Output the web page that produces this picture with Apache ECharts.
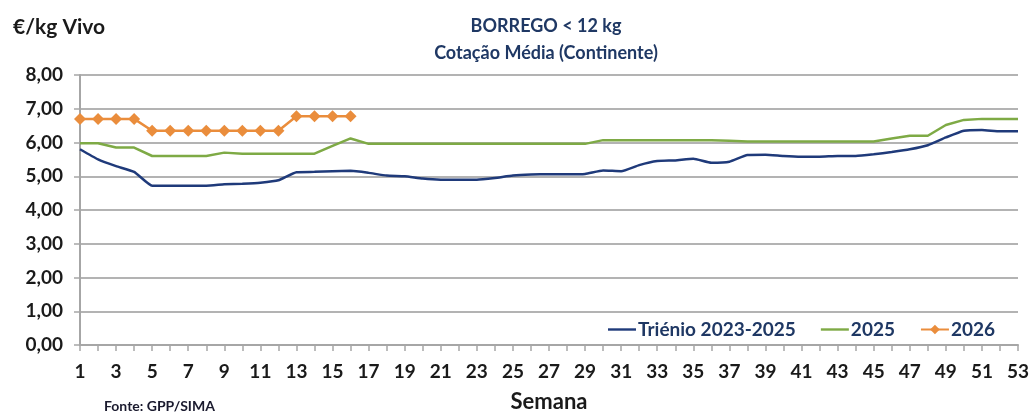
<!DOCTYPE html>
<html>
<head>
<meta charset="utf-8">
<script src="https://cdn.jsdelivr.net/npm/echarts@6/dist/echarts.min.js"></script>
<style>
html,body{margin:0;padding:0;background:#fff;}
#c{width:1031px;height:414px;}
</style>
</head>
<body>
<div id="c"></div>
<script>
const weeks = [1,2,3,4,5,6,7,8,9,10,11,12,13,14,15,16,17,18,19,20,21,22,23,24,25,26,27,28,29,30,31,32,33,34,35,36,37,38,39,40,41,42,43,44,45,46,47,48,49,50,51,52,53];
const trienio = [5.80,5.50,5.30,5.13,4.72,4.72,4.72,4.72,4.76,4.78,4.81,4.88,5.12,5.13,5.15,5.16,5.10,5.02,5.00,4.93,4.90,4.90,4.90,4.95,5.02,5.05,5.06,5.06,5.07,5.17,5.15,5.33,5.45,5.47,5.52,5.40,5.43,5.63,5.64,5.60,5.58,5.58,5.60,5.60,5.65,5.72,5.80,5.92,6.15,6.35,6.37,6.33,6.33];
const y2025 = [5.98,5.98,5.85,5.85,5.60,5.60,5.60,5.60,5.70,5.67,5.67,5.67,5.67,5.67,5.90,6.12,5.96,5.96,5.96,5.96,5.96,5.96,5.96,5.96,5.96,5.96,5.96,5.96,5.96,6.07,6.07,6.07,6.07,6.07,6.07,6.07,6.05,6.03,6.03,6.03,6.03,6.03,6.03,6.03,6.03,6.12,6.20,6.20,6.52,6.67,6.70,6.70,6.70];
const y2026 = [6.70,6.70,6.70,6.70,6.35,6.35,6.35,6.35,6.35,6.35,6.35,6.35,6.78,6.78,6.78,6.78];
const seriesNames = ['Triénio 2023-2025','2025','2026'];
const yTickValues = [0,1,2,3,4,5,6,7,8];

const FONT = 'Lato, "Open Sans", sans-serif';
const NAVY = '#1F3864';
const LINE_ICON = 'path://M0,0 M28,0 M0,4.8 H28 V7.2 H0 Z M0,12 M28,12';
const chart = echarts.init(document.getElementById('c'), null, {renderer:'canvas'});
chart.setOption({
  animation:false,
  backgroundColor:'#fff',
  textStyle:{fontFamily:FONT},
  title:[
    {text:'BORREGO < 12 kg', left:541, top:12, textAlign:'center',
     textStyle:{fontFamily:FONT, fontSize:18, fontWeight:'bold', color:NAVY}},
    {text:'Cotação Média (Continente)', left:541, top:39, textAlign:'center',
     textStyle:{fontFamily:FONT, fontSize:18, fontWeight:'bold', color:NAVY}},
    {text:'€/kg Vivo', left:8, top:12, textStyle:{fontFamily:FONT, fontSize:21, fontWeight:'bold', color:'#1a1a1a'}},
    {text:'Fonte: GPP/SIMA', left:99, top:394, textStyle:{fontFamily:FONT, fontSize:14, fontWeight:'bold', color:'#1a1a2e'}}
  ],
  legend:{
    left:603, top:315, itemGap:25, itemWidth:28, itemHeight:12,
    textStyle:{fontFamily:FONT, fontSize:19, fontWeight:'bold', color:NAVY, padding:[0,0,0,-3]},
    data:[
      {name:seriesNames[0], icon:LINE_ICON},
      {name:seriesNames[1], icon:LINE_ICON},
      {name:seriesNames[2]}
    ]
  },
  grid:{left:80, right:13, top:75, bottom:69, containLabel:false, outerBoundsMode:'none'},
  xAxis:{
    type:'category', data:weeks, boundaryGap:false,
    name:'Semana', nameLocation:'middle', nameGap:46,
    nameTextStyle:{fontFamily:FONT, fontSize:22, fontWeight:'bold', color:'#1a1a1a'},
    axisLine:{lineStyle:{color:'#A6A6A6', width:2}},
    axisTick:{show:true, interval:0, length:6, lineStyle:{color:'#A6A6A6', width:1.5}},
    axisLabel:{interval:1, margin:17, fontFamily:FONT, fontSize:19, fontWeight:'bold', color:'#1a1a1a'},
    splitLine:{show:false}
  },
  yAxis:{
    type:'value', min:yTickValues[0], max:yTickValues[yTickValues.length-1], interval:1,
    axisLine:{show:true, lineStyle:{color:'#A6A6A6', width:2}},
    axisTick:{show:true, length:6, lineStyle:{color:'#A6A6A6', width:1.5}},
    axisLabel:{margin:17, fontFamily:FONT, fontSize:19, fontWeight:'bold', color:'#1a1a1a',
      formatter:v=>v.toFixed(2).replace('.',',')},
    splitLine:{lineStyle:{color:'#B3B3B3', width:2}}
  },
  series:[
    {name:seriesNames[0], type:'line', data:trienio, symbol:'none', smooth:0.15,
     lineStyle:{color:'#1F3A7A', width:2.5}, itemStyle:{color:'#1F3A7A'}},
    {name:seriesNames[1], type:'line', data:y2025, symbol:'none',
     lineStyle:{color:'#7EAA45', width:2.5}, itemStyle:{color:'#7EAA45'}},
    {name:seriesNames[2], type:'line', data:y2026, symbol:'diamond', symbolSize:12, showAllSymbol:true,
     lineStyle:{color:'#EA8D3C', width:2.5}, itemStyle:{color:'#EA8D3C'}}
  ]
});
</script>
</body>
</html>
